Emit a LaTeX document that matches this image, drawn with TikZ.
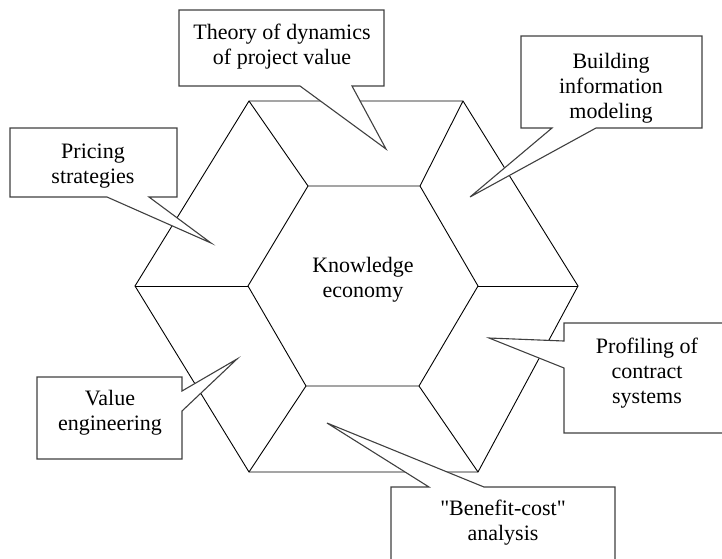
\documentclass[tikz,border=0pt]{standalone}
\usepackage{fontspec}
\setmainfont{Liberation Serif}[Ligatures=TeXOff]

\begin{document}
\begin{tikzpicture}[x=1pt, y=-1pt,
    hexline/.style={
        draw=black,
        line width=0.9pt
        },
    callout/.style={
        draw=black!75,
        fill=white,
        line width=1.1pt},
    topic/.style={
        align=center,
        inner sep=0pt,
        font=\fontsize{22}{25}\selectfont}]

    \useasboundingbox (0,0) rectangle (722,558);

    % outer hexagon
    \coordinate (out_tl) at (249,101);
    \coordinate (out_tr) at (463,101);
    \coordinate (out_r) at (578,286);
    \coordinate (out_br) at (478,472);
    \coordinate (out_bl) at (249,472);
    \coordinate (out_l) at (135,286);
    % inner hexagon
    \coordinate (in_tl) at (308,186);
    \coordinate (in_tr) at (420,186);
    \coordinate (in_r) at (478,286);
    \coordinate (in_br) at (419,386);
    \coordinate (in_bl) at (306,386);
    \coordinate (in_l) at (248,286);

    \draw[hexline] (out_tl) -- (out_tr) -- (out_r) -- (out_br) -- (out_bl) -- (out_l) -- cycle;
    \draw[hexline] (in_tl) -- (in_tr) -- (in_r) -- (in_br) -- (in_bl) -- (in_l) -- cycle;
    \foreach \v in {tl,tr,r,br,bl,l}
        \draw[hexline] (out_\v) -- (in_\v);

    % callouts
    \draw[callout] (179,10) -- (384,10) -- (384,86) -- (352,86) -- (386,149) -- (300,86) -- (179,86) -- cycle;
    \draw[callout] (521,36) -- (702,36) -- (702,128) -- (596,128) -- (470,197) -- (552,128) -- (521,128) -- cycle;
    \draw[callout] (10,128) -- (177,128) -- (177,197) -- (149,197) -- (211,243) -- (107,197) -- (10,197) -- cycle;
    \draw[callout] (37,377) -- (182,377) -- (182,391) -- (237,359) -- (182,411) -- (182,459) -- (37,459) -- cycle;
    \draw[callout] (564,323) -- (730,323) -- (730,433) -- (564,433) -- (564,368) -- (489,338) -- (564,341) -- cycle;
    \draw[callout] (391,487) -- (429,487) -- (327,423) -- (484,487) -- (615,487) -- (615,570) -- (391,570) -- cycle;

    \node (know) [topic] at (363,280) {Knowledge\\economy};
    \node (theory) [topic] at (282,47) {Theory of dynamics\\of project value};
    \node (bim) [topic] at (611,88) {Building\\information\\modeling};
    \node (pricing) [topic] at (93,166) {Pricing\\strategies};
    \node (value_eng) [topic] at (110,413) {Value\\engineering};
    \node (profiling) [topic] at (647,373) {Profiling of\\contract\\systems};
    \node (benefit) [topic] at (503,523) {"Benefit-cost"\\analysis};
\end{tikzpicture}
\end{document}
